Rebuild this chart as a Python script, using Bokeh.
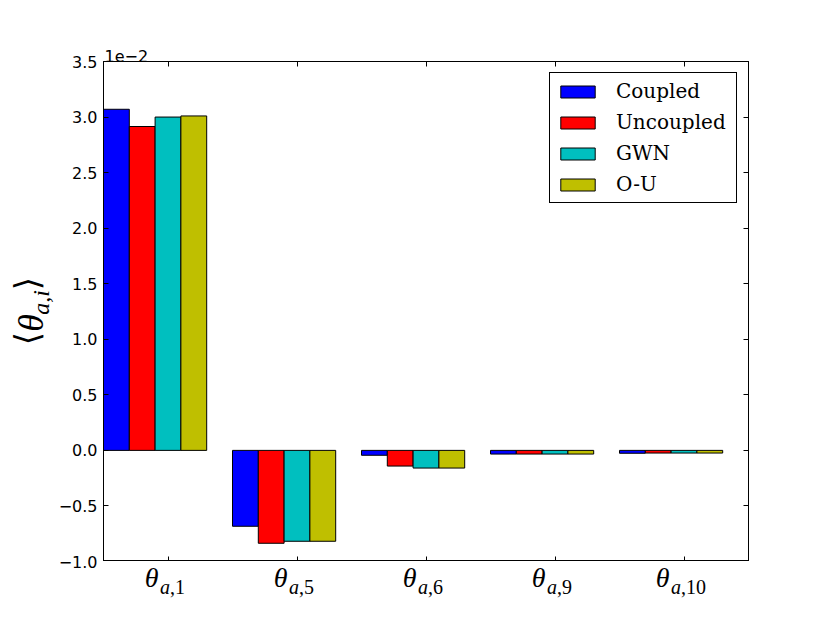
import math
from bokeh.plotting import figure
from bokeh.layouts import column, row
from bokeh.models import Range1d, FixedTicker, LinearAxis, Legend, LegendItem
from bokeh.core.properties import value
from bokeh.embed import file_html
from bokeh.resources import INLINE

# ---- data (values in units of 1e-2) ----
categories = ["1", "5", "6", "9", "10"]          # index i of theta_{a,i}
series_names = ["Coupled", "Uncoupled", "GWN", "O-U"]
series_colors = ["#0000ff", "#ff0000", "#00bfbf", "#bfbf00"]
coupled = [3.07, -0.683, -0.044, -0.033, -0.026]
uncoupled = [2.915, -0.836, -0.141, -0.033, -0.024]
gwn = [3.00, -0.818, -0.159, -0.033, -0.024]
ou = [3.01, -0.818, -0.159, -0.033, -0.024]
series_values = [coupled, uncoupled, gwn, ou]
y_ticks = [-1.0, -0.5, 0.0, 0.5, 1.0, 1.5, 2.0, 2.5, 3.0, 3.5]
y_tick_labels = ["\u22121.0", "\u22120.5", "0.0", "0.5", "1.0", "1.5", "2.0", "2.5", "3.0", "3.5"]
offset_text = "1e\u22122"
bar_width = 0.2

y_min, y_max = -1.0, 3.5
x_min, x_max = 0.0, float(len(categories))

# ---- layout constants (pixels) ----
TOTAL_H = 615
LEFT_W = 100          # strip holding y tick labels and y axis label
FW, FH = 645, 500
TOP, BOT = 61, 0
BH = TOTAL_H - TOP - FH - BOT
serif = "Liberation Serif"

main = figure(frame_width=FW, frame_height=FH,
              min_border_left=3, min_border_top=TOP,
              min_border_right=74, min_border_bottom=BOT,
              x_range=Range1d(x_min, x_max), y_range=Range1d(y_min, y_max),
              output_backend="svg", toolbar_location=None)
main.background_fill_color = "white"
main.border_fill_color = "white"
main.outline_line_color = "black"
main.outline_line_width = 1
main.xgrid.visible = False
main.ygrid.visible = False

x_ticks = [i + 0.5 for i in range(len(categories))]

def style_axis(ax, ticks):
    ax.ticker = FixedTicker(ticks=ticks)
    ax.major_tick_in = 5
    ax.major_tick_out = 0
    ax.minor_tick_in = 0
    ax.minor_tick_out = 0
    ax.axis_line_color = "black"
    ax.major_tick_line_color = "black"
    ax.major_label_text_font_size = "1px"
    ax.major_label_text_alpha = 0.0
    ax.major_label_standoff = 0

style_axis(main.xaxis[0], x_ticks)
main.xaxis[0].fixed_location = y_min      # drawn on the frame edge, takes no border space
style_axis(main.yaxis[0], y_ticks)
top_ax = LinearAxis()
style_axis(top_ax, x_ticks)
main.add_layout(top_ax, "above")
right_ax = LinearAxis()
style_axis(right_ax, y_ticks)
main.add_layout(right_ax, "right")

# offset text "1e-2" as a left-aligned title
main.title.text = offset_text
main.title.align = "left"
main.title.text_font = "DejaVu Sans"
main.title.text_font_size = "16px"
main.title.text_font_style = "normal"
main.title.text_color = "black"
main.title.standoff = 0
main.title.offset = 1

# ---- bars ----
items = []
for k, (name, col, vals) in enumerate(zip(series_names, series_colors, series_values)):
    xs = [i + bar_width * (k + 0.5) for i in range(len(categories))]
    r = main.vbar(x=xs, top=vals, bottom=0, width=bar_width,
                  fill_color=col, line_color="black", line_width=1)
    items.append(LegendItem(label=name, renderers=[r]))

legend = Legend(items=items, location="top_right", margin=11, padding=6, spacing=7,
                glyph_width=43, glyph_height=15, label_standoff=17, label_width=114,
                label_text_font="DejaVu Serif", label_text_font_size="20px",
                label_text_color="black",
                border_line_color="black", border_line_width=1, border_line_alpha=1.0,
                background_fill_color="white", background_fill_alpha=1.0)
main.add_layout(legend)

def blank_fig(**kw):
    f = figure(x_axis_type=None, y_axis_type=None, output_backend="svg",
               toolbar_location=None, min_border_left=kw.pop("min_border_left", 0),
               min_border_right=kw.pop("min_border_right", 0),
               min_border_top=0, min_border_bottom=0, **kw)
    f.outline_line_color = None
    f.background_fill_color = "white"
    f.border_fill_color = "white"
    return f

# ---- left strip: y tick labels (same data scale as main) and y axis label ----
px_per_unit = FH / (y_max - y_min)
left = blank_fig(frame_width=LEFT_W, frame_height=TOTAL_H,
                 x_range=Range1d(0, LEFT_W),
                 y_range=Range1d(y_min - (TOTAL_H - TOP - FH) / px_per_unit,
                                 y_max + TOP / px_per_unit))
left.extra_y_ranges = {"px": Range1d(start=TOTAL_H, end=0)}
left.text(x=[LEFT_W - 3] * len(y_ticks), y=y_ticks, text=y_tick_labels,
          text_font=value("DejaVu Sans"), text_font_size=value("16px"),
          text_align="right", text_baseline="middle", text_color="black")
rot = math.pi / 2
left.text(x=[26.5, 26.5], y=[338, 283], text=["\u27e8", "\u27e9"], angle=rot, y_range_name="px",
          text_font=value("DejaVu Sans"), text_font_size=value("34px"),
          text_align="center", text_baseline="middle", text_color="black")
left.text(x=[30.5], y=[322.5], text=["\u03b8"], angle=rot, y_range_name="px",
          text_font=value(serif), text_font_size=value("36px"), text_font_style="italic",
          text_align="center", text_baseline="middle", text_color="black")
left.text(x=[40], y=[302], text=["a,i"], angle=rot, y_range_name="px",
          text_font=value(serif), text_font_size=value("24px"), text_font_style="italic",
          text_align="center", text_baseline="middle", text_color="black")

# ---- bottom strip: x tick labels theta_{a,i} (y in canvas pixels) ----
bottom = blank_fig(frame_width=FW, frame_height=BH, min_border_left=3, min_border_right=74,
                   x_range=main.x_range, y_range=Range1d(TOTAL_H, TOTAL_H - BH))
sub_w = [15 + 10 * len(c) for c in categories]
theta_off = [3 - w / 2 for w in sub_w]
n = len(x_ticks)
bottom.text(x=x_ticks, y=[576.5] * n, text=["\u03b8"] * n, x_offset=theta_off,
            text_font=value(serif), text_font_size=value("28px"), text_font_style="italic",
            text_align="right", text_baseline="middle", text_color="black")
bottom.text(x=x_ticks, y=[586] * n, text=["a"] * n, x_offset=[o + 1.5 for o in theta_off],
            text_font=value(serif), text_font_size=value("20px"), text_font_style="italic",
            text_align="left", text_baseline="middle", text_color="black")
bottom.text(x=x_ticks, y=[586] * n, text=["," + c for c in categories],
            x_offset=[o + 11.5 for o in theta_off],
            text_font=value(serif), text_font_size=value("20px"), text_font_style="normal",
            text_align="left", text_baseline="middle", text_color="black")

layout = row(left, column(main, bottom))
open("out.html", "w").write(file_html(layout, INLINE))
